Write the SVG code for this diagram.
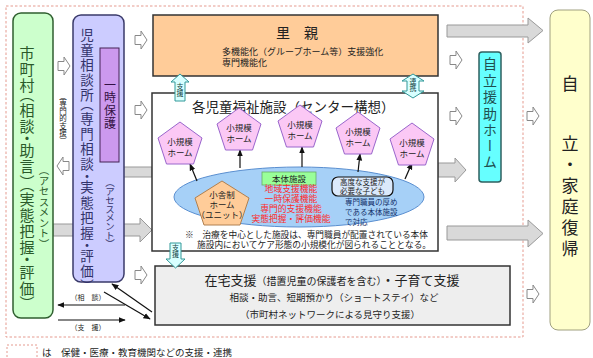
<svg xmlns="http://www.w3.org/2000/svg" width="593" height="358" viewBox="0 0 593 358">
<style>
text{font-family:"Liberation Sans","Noto Sans CJK JP",sans-serif;fill:#222}
.v{font-family:"Noto Sans CJK JP",sans-serif;writing-mode:vertical-rl;text-orientation:mixed;font-feature-settings:"vpal"}
.big{fill:#d9d9d9;stroke:#999;stroke-width:1}
.sm{fill:#fff;stroke:#888;stroke-width:1}
.pent{fill:#fbc8f5;stroke:#9966cc;stroke-width:1}
.pt{font-size:8.5px;text-anchor:middle}
.red{fill:#ff2a2a;font-size:8.8px;text-anchor:middle}
.teal{fill:#d8ffff;stroke:#339999;stroke-width:1}
.tl{font-size:7px;text-anchor:middle;fill:#114444}
.ln{stroke:#111;stroke-width:1.2;fill:none}
</style>
<defs>
<path id="sa" d="M0,-4.5H6V-9L12,0L6,9V4.5H0Z"/>
<marker id="ah" viewBox="0 0 10 10" refX="9" refY="5" markerWidth="6" markerHeight="6" orient="auto"><path d="M0,1L10,5L0,9Z" fill="#111"/></marker>
</defs>
<rect width="593" height="358" fill="#fff"/>
<rect x="6" y="6" width="517" height="331" fill="none" stroke="#e59a8f" stroke-width="1" stroke-dasharray="2.5 2"/>

<g id="connectors">
<path class="big" d="M53,224H140V218L152,230L140,242V236H53Z"/>
<rect class="big" x="110" y="167" width="42" height="10"/>
<path class="big" d="M447,25H528V18L543,30.5L528,43V37H447Z"/>
<path class="big" d="M438,163H455V158L466,170L455,182V177H438Z"/>
<path class="big" d="M447,226H528V220L543,233.5L528,247V240H447Z"/>
<use href="#sa" class="sm" x="58" y="66"/>
<use href="#sa" class="sm" transform="translate(69,166) scale(-1,1)"/>
<use href="#sa" class="sm" x="135" y="40"/>
<use href="#sa" class="sm" x="135" y="110"/>
<use href="#sa" class="sm" x="135" y="275"/>
<use href="#sa" class="sm" x="450" y="60"/>
<use href="#sa" class="sm" x="450" y="116"/>
<use href="#sa" class="sm" x="527" y="116"/>
<use href="#sa" class="sm" x="527" y="294"/>
<line class="ln" x1="125" y1="305" x2="58" y2="305" marker-end="url(#ah)"/>
<line class="ln" x1="58" y1="320" x2="125" y2="320" marker-end="url(#ah)"/>
<line class="ln" x1="152" y1="312" x2="112" y2="284" marker-end="url(#ah)"/>
<line class="ln" x1="104" y1="292" x2="150" y2="319" marker-end="url(#ah)"/>
<text x="88" y="300" style="font-size:7px;text-anchor:middle">（相　談）</text>
<text x="88" y="330" style="font-size:7px;text-anchor:middle">（支　援）</text>
<text class="v" x="63" y="96" style="font-size:7.5px">（専門的支援）</text>
</g>

<g id="shichoson">
<rect x="13" y="13" width="40" height="305" rx="8" fill="#ccffcc" stroke="#2f5f2f" stroke-width="1.5"/>
<text class="v" x="27" y="46" style="font-size:15px;letter-spacing:1px;fill:#2a5a2a">市町村（相談・助言）（実態把握・評価）</text>
<text class="v" x="44" y="165" style="font-size:10.5px;font-feature-settings:normal;fill:#2a5a2a">（アセスメント）</text>
</g>

<g id="jidosodanjo">
<rect x="73" y="15" width="51" height="267" rx="8" fill="#ccccff" stroke="#3a3a6a" stroke-width="1.5"/>
<text class="v" x="87" y="28" style="font-size:13.5px;letter-spacing:1.6px;fill:#33336a">児童相談所（専門相談・実態把握・評価）</text>
<text class="v" x="110" y="182" style="font-size:9.5px;fill:#33336a">（アセスメント）</text>
</g>

<g id="ichijihogo">
<rect x="100" y="48" width="19" height="114" fill="#cc99ee" stroke="#442255" stroke-width="1"/>
<text class="v" x="110" y="79" style="font-size:12px;letter-spacing:0.8px;fill:#331144">一時保護</text>
</g>

<g id="satooya">
<rect x="153" y="15" width="285" height="61" fill="#ffcc99" stroke="#333" stroke-width="1.5"/>
<text x="297" y="38" style="font-size:14px;text-anchor:middle">里　親</text>
<text x="222" y="55" style="font-size:9px">多機能化（グループホーム等）支援強化</text>
<text x="222" y="66" style="font-size:9px">専門機能化</text>
</g>

<g id="shisetsu">
<rect x="152" y="93" width="286" height="158" fill="#fff" stroke="#333" stroke-width="1.5"/>
<text x="192" y="112" style="font-size:13.5px">各児童福祉施設（センター構想）</text>
<ellipse cx="299" cy="197" rx="125" ry="30" fill="#a6d0f7" stroke="#5b8fd0" stroke-width="1"/>
<line class="ln" x1="197" y1="181" x2="190" y2="164" marker-end="url(#ah)"/>
<line class="ln" x1="240" y1="168" x2="240" y2="150" marker-end="url(#ah)"/>
<line class="ln" x1="302" y1="167" x2="302" y2="147" marker-end="url(#ah)"/>
<line class="ln" x1="358" y1="172" x2="360" y2="154" marker-end="url(#ah)"/>
<line class="ln" x1="405" y1="179" x2="412" y2="163" marker-end="url(#ah)"/>
</g>

<g id="home1"><polygon class="pent" points="180,122 202,138 193.5,164 166.5,164 158,138"/><text class="pt" x="180" y="145">小規模</text><text class="pt" x="180" y="156">ホーム</text></g>
<g id="home2"><polygon class="pent" points="239,108 261,124 252.5,150 225.5,150 217,124"/><text class="pt" x="239" y="131">小規模</text><text class="pt" x="239" y="142">ホーム</text></g>
<g id="home3"><polygon class="pent" points="300,105 322,121 313.5,147 286.5,147 278,121"/><text class="pt" x="300" y="128">小規模</text><text class="pt" x="300" y="139">ホーム</text></g>
<g id="home4"><polygon class="pent" points="358,112 380,128 371.5,154 344.5,154 336,128"/><text class="pt" x="358" y="135">小規模</text><text class="pt" x="358" y="146">ホーム</text></g>
<g id="home5"><polygon class="pent" points="412,123 434,139 425.5,165 398.5,165 390,139"/><text class="pt" x="412" y="146">小規模</text><text class="pt" x="412" y="157">ホーム</text></g>

<g id="shosha">
<polygon points="222,181 249,198 240,225 204,225 195,198" fill="#ffcc99" stroke="#b08050" stroke-width="1"/>
<text class="pt" x="222" y="198">小舎制</text>
<text class="pt" x="222" y="208">ホーム</text>
<text class="pt" x="222" y="218">（ユニット）</text>
</g>

<g id="hontai">
<rect x="262" y="172" width="54" height="13" fill="#99ff99" stroke="#66aa66" stroke-width="0.8"/>
<text x="289" y="182" style="font-size:8.5px;text-anchor:middle">本体施設</text>
<text class="red" x="291" y="192">地域支援機能</text>
<text class="red" x="291" y="202">一時保護機能</text>
<text class="red" x="291" y="212">専門的支援機能</text>
<text class="red" x="291" y="222">実態把握・評価機能</text>
</g>

<g id="kodo">
<rect x="332" y="177" width="61" height="19" rx="6" fill="#dbe9fb" stroke="#111" stroke-width="1.2"/>
<text x="362.5" y="185" style="font-size:7.5px;text-anchor:middle">高度な支援が</text>
<text x="362.5" y="194" style="font-size:7.5px;text-anchor:middle">必要な子ども</text>
<text x="345" y="205" style="font-size:7.5px;fill:#13306a">専門職員の厚め</text>
<text x="345" y="215" style="font-size:7.5px;fill:#13306a">である本体施設</text>
<text x="345" y="225" style="font-size:7.5px;fill:#13306a">で対応</text>
</g>

<g id="note">
<text x="185" y="238" style="font-size:8.7px">※　治療を中心とした施設は、専門職員が配置されている本体</text>
<text x="197" y="248" style="font-size:8.7px">施設内においてケア形態の小規模化が図られることとなる。</text>
</g>

<g id="zaitaku">
<rect x="155" y="266" width="355" height="59" fill="#eeeeee" stroke="#333" stroke-width="1.5"/>
<text x="332" y="285" style="font-size:13px;text-anchor:middle">在宅支援<tspan style="font-size:10px">（措置児童の保護者を含む）</tspan>・子育て支援</text>
<text x="334" y="301" style="font-size:9.5px;text-anchor:middle">相談・助言、短期預かり（ショートステイ）など</text>
<text x="330" y="318" style="font-size:9.5px;text-anchor:middle">（市町村ネットワークによる見守り支援）</text>
</g>

<g id="jiritsuenjo">
<rect x="479" y="52" width="22" height="130" rx="3" fill="#66ffff" stroke="#2f6060" stroke-width="1.5"/>
<text class="v" x="490" y="57" style="font-size:14px;letter-spacing:2.5px;fill:#1f4f4f">自立援助ホーム</text>
</g>

<g id="jiritsu">
<rect x="550" y="10" width="40" height="320" rx="8" fill="#ffffcc" stroke="#a0a080" stroke-width="1"/>
<text class="v" x="570" y="75" style="font-size:17px;font-feature-settings:normal">自</text>
<text class="v" x="570" y="135" style="font-size:17px;letter-spacing:4px;font-feature-settings:normal">立・家庭復帰</text>
</g>

<g id="shien-up"><path class="teal" d="M180,74L189,82H185V101H175V82H171Z"/><text class="v" x="180" y="83" style="font-size:7px;fill:#114444">支援</text></g>
<g id="renkei"><path class="teal" d="M413,74L424,81H419V91H424L413,98L402,91H407V81H402Z"/><text class="v" x="413" y="78" style="font-size:7px;fill:#114444">連携</text></g>
<g id="shien-down"><path class="teal" d="M170,243H181V259H185L175.5,268L166,259H170Z"/><text class="v" x="175.5" y="244" style="font-size:7px;fill:#114444">支援</text></g>

<g id="legend">
<rect x="7" y="345" width="30" height="16" fill="none" stroke="#e59a8f" stroke-dasharray="2 2"/>
<text x="42" y="356" style="font-size:9.5px">は　保健・医療・教育機関などの支援・連携</text>
</g>
</svg>
